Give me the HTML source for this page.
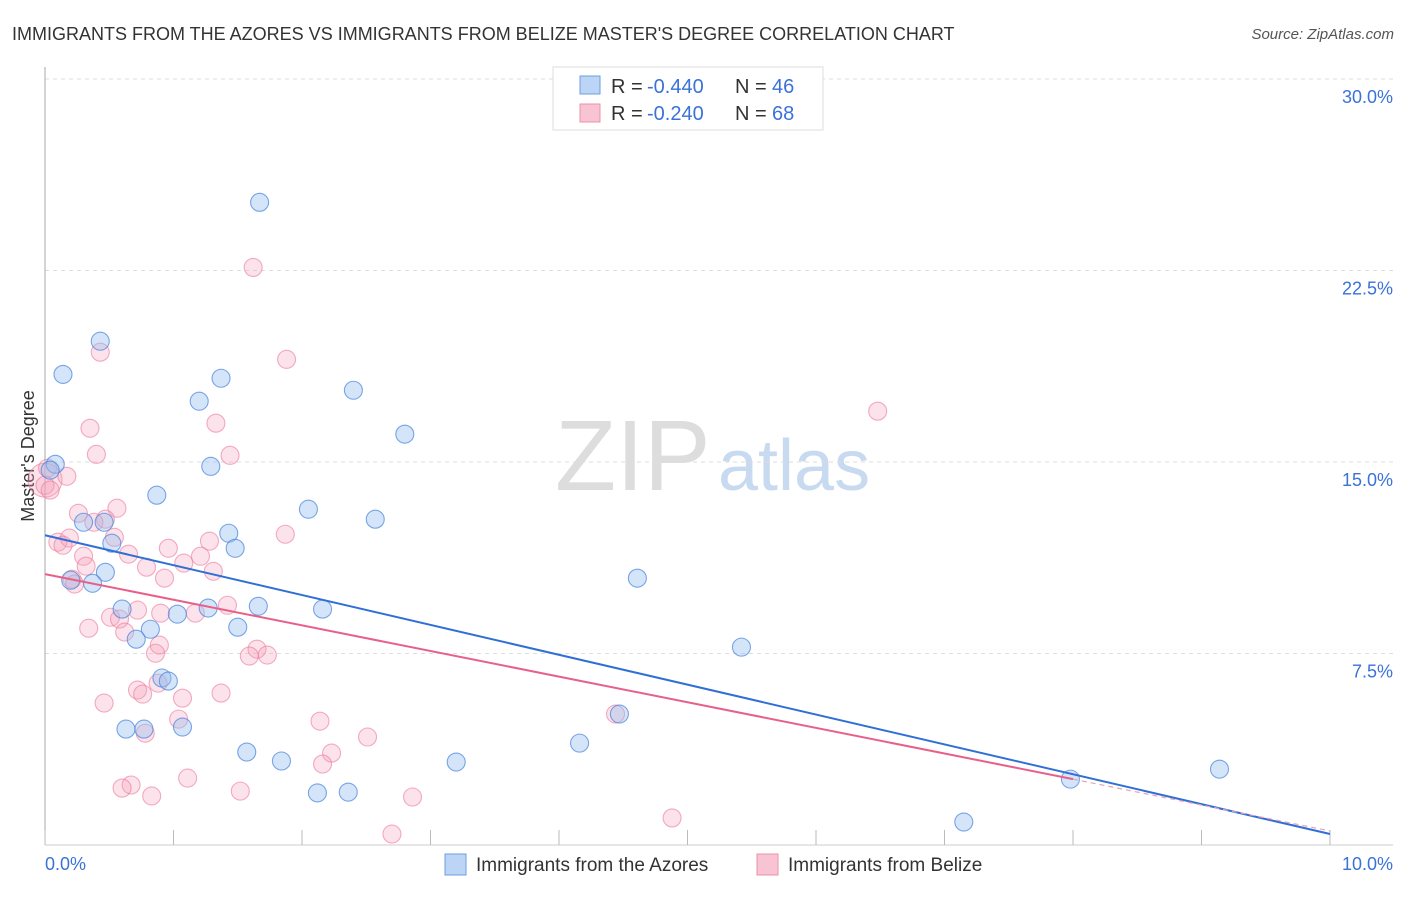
<!DOCTYPE html>
<html><head><meta charset="utf-8"><style>
body{margin:0;background:#fff;font-family:"Liberation Sans",sans-serif;}
svg text{font-family:"Liberation Sans",sans-serif;}
</style></head><body>
<svg id="chart" width="1406" height="892">
<text x="12" y="40" font-size="18" fill="#333">IMMIGRANTS FROM THE AZORES VS IMMIGRANTS FROM BELIZE MASTER'S DEGREE CORRELATION CHART</text>
<text x="1394" y="39" font-size="15" fill="#555" font-style="italic" text-anchor="end">Source: ZipAtlas.com</text>
<text x="34" y="456" font-size="18" fill="#333" text-anchor="middle" transform="rotate(-90 34 456)">Master's Degree</text>
<text x="555" y="490" font-size="100" fill="#ddd" font-family="Liberation Serif">ZIP</text>
<text x="718" y="490" font-size="72" fill="#c8daf0">atlas</text>
<g id="grid"></g><g id="axes"></g><g id="pts"></g><g id="trend"></g>
<g>
<rect x="553" y="67" width="270" height="63" fill="#fff" stroke="#ddd"/>
<rect x="580" y="76" width="20" height="18" fill="#bcd4f5" stroke="#6d9fe0"/>
<rect x="580" y="104" width="20" height="18" fill="#f8c3d3" stroke="#ee90ab"/>
<text x="611" y="93" font-size="20" fill="#333">R =</text>
<text x="647" y="93" font-size="20" fill="#3a72d8">-0.440</text>
<text x="735" y="93" font-size="20" fill="#333">N =</text>
<text x="772" y="93" font-size="20" fill="#3a72d8">46</text>
<text x="611" y="120" font-size="20" fill="#333">R =</text>
<text x="647" y="120" font-size="20" fill="#3a72d8">-0.240</text>
<text x="735" y="120" font-size="20" fill="#333">N =</text>
<text x="772" y="120" font-size="20" fill="#3a72d8">68</text>
</g>
<g>
<rect x="445" y="854" width="21" height="21" fill="#bcd4f5" stroke="#6d9fe0"/>
<text x="476" y="871" font-size="19" fill="#333">Immigrants from the Azores</text>
<rect x="757" y="854" width="21" height="21" fill="#f8c3d3" stroke="#ee90ab"/>
<text x="788" y="871" font-size="19" fill="#333">Immigrants from Belize</text>
</g>
</svg>
<script>
const yTicks=[7.5,15,22.5,30];
const yTickLabels=["7.5%","15.0%","22.5%","30.0%"];
const xTicks=[0,1,2,3,4,5,6,7,8,9,10];
const azoresX=[1.67,0.43,0.14,1.37,2.40,1.20,2.80,1.29,0.08,0.04,0.87,2.05,2.57,0.30,0.46,1.43,0.52,1.48,0.47,0.20,0.37,4.61,1.66,2.16,0.60,1.27,1.03,1.50,0.82,0.71,5.42,0.91,0.96,4.47,0.63,0.77,1.07,4.16,1.57,1.84,3.20,7.98,9.14,2.12,2.36,7.15];
const azoresY=[25.17,19.73,18.43,18.28,17.81,17.38,16.09,14.83,14.91,14.68,13.70,13.15,12.76,12.64,12.64,12.21,11.82,11.62,10.68,10.37,10.25,10.45,9.35,9.24,9.24,9.28,9.04,8.53,8.45,8.06,7.75,6.54,6.42,5.13,4.54,4.54,4.62,3.99,3.64,3.29,3.25,2.58,2.97,2.04,2.07,0.90];
const belizeX=[1.62,0.43,1.88,6.48,0.35,1.33,0.40,1.44,0.00,0.17,0.02,0.26,0.56,0.47,0.38,1.87,0.10,0.19,0.14,0.54,0.65,0.30,0.96,1.28,1.21,0.79,0.32,1.08,1.31,0.93,0.21,0.23,1.42,0.72,0.90,1.17,0.51,0.58,0.34,0.62,0.89,0.86,1.65,1.73,1.59,0.72,0.76,1.07,1.37,0.88,0.46,1.04,2.14,4.44,0.78,2.51,2.23,2.16,1.11,0.67,0.60,0.83,1.52,2.86,2.70,4.88,0.00,0.04];
const belizeY=[22.62,19.30,19.02,16.99,16.32,16.52,15.30,15.26,14.29,14.44,14.76,12.99,13.19,12.76,12.64,12.17,11.86,12.02,11.74,12.05,11.39,11.31,11.62,11.90,11.31,10.88,10.92,11.04,10.72,10.45,10.41,10.22,9.39,9.20,9.08,9.08,8.92,8.85,8.49,8.34,7.83,7.51,7.67,7.44,7.40,6.07,5.91,5.75,5.95,6.34,5.56,4.93,4.85,5.13,4.38,4.23,3.60,3.17,2.62,2.35,2.23,1.92,2.11,1.88,0.43,1.06,14.09,13.90];
const belizeR=[9,9,9,9,9,9,9,9,17,9,9,9,9,9,9,9,9,9,9,9,9,9,9,9,9,9,9,9,9,9,9,9,9,9,9,9,9,9,9,9,9,9,9,9,9,9,9,9,9,9,9,9,9,9,9,9,9,9,9,9,9,9,9,9,9,9,9,9];
const azoresTrend=[[0,12.13],[10,0.43]];
const belizeTrend=[[0,10.61],[8,2.58],[10,0.55]];

const X0=45,X1=1330,Y0=845,Y30=79;
const sx=v=>X0+(X1-X0)*v/10;
const sy=v=>Y0-(Y0-Y30)*v/30;
const NS="http://www.w3.org/2000/svg";
function mk(parent,tag,attrs){const e=document.createElementNS(NS,tag);for(const k in attrs)e.setAttribute(k,attrs[k]);document.getElementById(parent).appendChild(e);return e;}

yTicks.forEach((t,i)=>{
  const l=mk('grid','line',{x1:X0,x2:1393,y1:sy(t),y2:sy(t),stroke:'#ddd','stroke-dasharray':'4,4'});
  
  
  const tx=mk('grid','text',{x:1393,y:sy(t)+24,'font-size':18,fill:'#3a72d8','text-anchor':'end'});
  tx.textContent=yTickLabels[i];
  
  
});
let a=mk('axes','line',{x1:X0,x2:X0,y1:67,y2:Y0,stroke:'#aaa'});


a=mk('axes','line',{x1:X0,x2:1393,y1:Y0,y2:Y0,stroke:'#ccc'});


xTicks.forEach(t=>{
  const l=mk('axes','line',{x1:sx(t),x2:sx(t),y1:Y0-15,y2:Y0,stroke:'#bbb'});
  
  
});
let t0=mk('axes','text',{x:X0,y:870,'font-size':18,fill:'#3a72d8'});t0.textContent='0.0%';


let t1=mk('axes','text',{x:1393,y:870,'font-size':18,fill:'#3a72d8','text-anchor':'end'});t1.textContent='10.0%';



belizeX.forEach((x,i)=>{
  const c=mk('pts','circle',{cx:sx(x),cy:sy(belizeY[i]),r:belizeR[i],fill:'rgba(245,160,185,0.3)',stroke:'rgba(235,120,155,0.6)','stroke-width':1.1});
  
  
});
azoresX.forEach((x,i)=>{
  const c=mk('pts','circle',{cx:sx(x),cy:sy(azoresY[i]),r:9,fill:'rgba(150,190,240,0.4)',stroke:'rgba(70,130,220,0.7)','stroke-width':1.1});
  
  
});
let tl=mk('trend','line',{x1:sx(azoresTrend[0][0]),y1:sy(azoresTrend[0][1]),x2:sx(azoresTrend[1][0]),y2:sy(azoresTrend[1][1]),stroke:'#2f6fd6','stroke-width':2});


tl=mk('trend','line',{x1:sx(belizeTrend[0][0]),y1:sy(belizeTrend[0][1]),x2:sx(belizeTrend[1][0]),y2:sy(belizeTrend[1][1]),stroke:'#e8608a','stroke-width':2});


tl=mk('trend','line',{x1:sx(belizeTrend[1][0]),y1:sy(belizeTrend[1][1]),x2:sx(belizeTrend[2][0]),y2:sy(belizeTrend[2][1]),stroke:'#e8a0b5','stroke-width':1.2,'stroke-dasharray':'5,4'});


</script>
</body></html>
